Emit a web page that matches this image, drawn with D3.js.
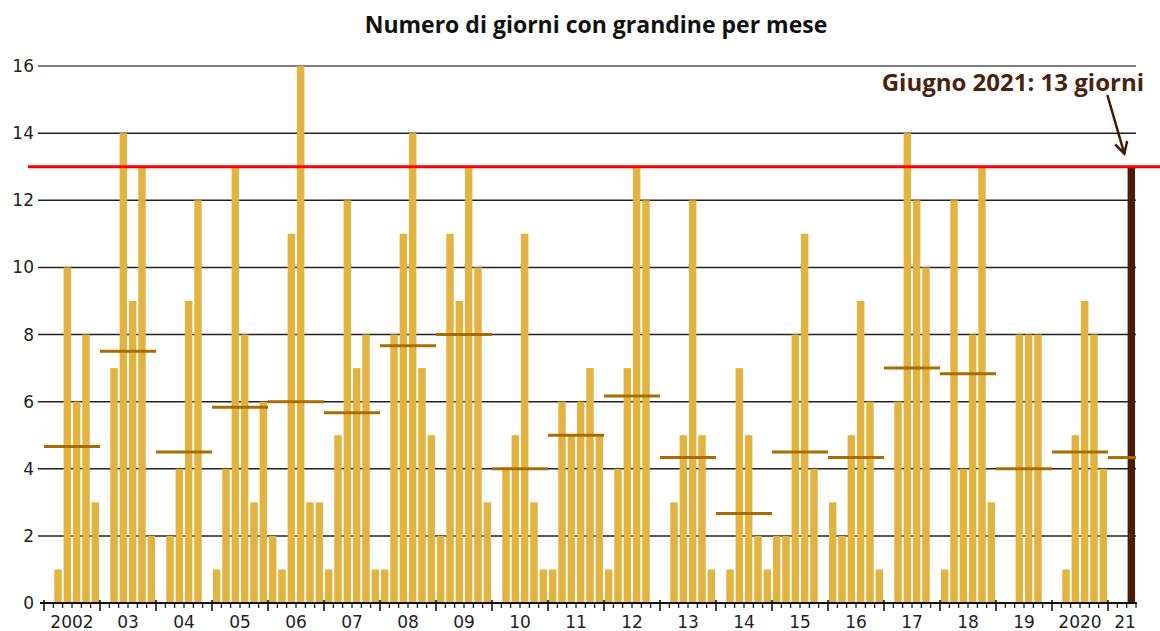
<!DOCTYPE html>
<html>
<head>
<meta charset="utf-8">
<script src="https://cdn.jsdelivr.net/npm/d3@7"></script>
<style>
  html, body { margin: 0; padding: 0; background: #fff; }
  svg { display: block; }
</style>
</head>
<body>
<svg id="chart" width="1160" height="631"></svg>
<script>
// ---- Data ----
const title = "Numero di giorni con grandine per mese";
const monthNames = ["Apr", "Mag", "Giu", "Lug", "Ago", "Set"];
const yearLabels = ["2002","03","04","05","06","07","08","09","10","11","12","13","14","15","16","17","18","19","2020","21"];
const monthlyCounts = [
  [0, 1, 10, 6, 8, 3],   // 2002
  [0, 7, 14, 9, 13, 2],  // 2003
  [0, 2, 4, 9, 12, 0],   // 2004
  [1, 4, 13, 8, 3, 6],   // 2005
  [2, 1, 11, 16, 3, 3],  // 2006
  [1, 5, 12, 7, 8, 1],   // 2007
  [1, 8, 11, 14, 7, 5],  // 2008
  [2, 11, 9, 13, 10, 3], // 2009
  [0, 4, 5, 11, 3, 1],   // 2010
  [1, 6, 5, 6, 7, 5],    // 2011
  [1, 4, 7, 13, 12, 0],  // 2012
  [0, 3, 5, 12, 5, 1],   // 2013
  [0, 1, 7, 5, 2, 1],    // 2014
  [2, 2, 8, 11, 4, 0],   // 2015
  [3, 2, 5, 9, 6, 1],    // 2016
  [0, 6, 14, 12, 10, 0], // 2017
  [1, 12, 4, 8, 13, 3],  // 2018
  [0, 0, 8, 8, 8, 0],    // 2019
  [0, 1, 5, 9, 8, 4],    // 2020
  [0, 0, 13]             // 2021 (Apr-Giu)
];
const yTicks = [0, 2, 4, 6, 8, 10, 12, 14, 16];
const highlightValue = 13;
const highlightYear = "21";
const highlightMonth = "Giu";
const annotationText = "Giugno 2021: 13 giorni";

// ---- Build slots ----
const slots = [];
monthlyCounts.forEach((vals, yi) => {
  vals.forEach((v, mi) => {
    slots.push({ key: yi + "-" + mi, year: yearLabels[yi], month: monthNames[mi], yi, mi, value: v });
  });
});
const yearSlots = monthlyCounts.map((vals, yi) => ({
  year: yearLabels[yi],
  first: yi + "-0",
  last: yi + "-" + (vals.length - 1),
  mean: d3.mean(vals)
}));

// ---- Layout ----
const svg = d3.select("#chart");
const plotLeft = 44, plotRight = 1136, plotTop = 66, plotBottom = 603;

const x = d3.scaleBand()
  .domain(slots.map(d => d.key))
  .range([plotLeft, plotRight])
  .paddingInner(0.2)
  .paddingOuter(0.1)
  .align(0.5);
const step = x.step();
const slotStart = k => x(k) - step * x.paddingInner() / 2;

const y = d3.scaleLinear().domain([0, 16]).range([plotBottom, plotTop]);

// Title
svg.append("text")
  .attr("x", 596).attr("y", 33)
  .attr("text-anchor", "middle")
  .attr("font-family", "'Open Sans', sans-serif")
  .attr("font-weight", 700)
  .attr("font-size", 23)
  .attr("fill", "#111")
  .text(title);

// Gridlines
svg.append("g").selectAll("line")
  .data(yTicks.filter(t => t > 0))
  .join("line")
  .attr("x1", 38).attr("x2", plotRight)
  .attr("y1", d => y(d)).attr("y2", d => y(d))
  .attr("stroke", d => d === 16 ? "#555" : "#222")
  .attr("stroke-width", 1.5);

// Y tick labels
svg.append("g").selectAll("text")
  .data(yTicks)
  .join("text")
  .attr("x", 34).attr("y", d => y(d))
  .attr("dy", "0.36em")
  .attr("text-anchor", "end")
  .attr("font-family", "'DejaVu Sans', sans-serif")
  .attr("font-size", 17)
  .attr("fill", "#222")
  .text(d => d);

// Bars
svg.append("g").selectAll("rect")
  .data(slots.filter(d => d.value > 0))
  .join("rect")
  .attr("x", d => x(d.key))
  .attr("width", x.bandwidth())
  .attr("y", d => y(d.value))
  .attr("height", d => y(0) - y(d.value))
  .attr("fill", d => (d.year === highlightYear && d.month === highlightMonth) ? "#4a1d06" : "#e3b342");

// Mean lines per year
svg.append("g").selectAll("line")
  .data(yearSlots)
  .join("line")
  .attr("x1", d => slotStart(d.first))
  .attr("x2", d => Math.min(slotStart(d.last) + step, plotRight))
  .attr("y1", d => y(d.mean)).attr("y2", d => y(d.mean))
  .attr("stroke", "#a96c02")
  .attr("stroke-width", 3);

// Red threshold line
svg.append("line")
  .attr("x1", 28).attr("x2", 1160)
  .attr("y1", y(highlightValue)).attr("y2", y(highlightValue))
  .attr("stroke", "#ff0000")
  .attr("stroke-width", 3);

// X axis line
const axisG = svg.append("g");
axisG.append("line")
  .attr("x1", 40).attr("x2", plotRight + 1)
  .attr("y1", plotBottom).attr("y2", plotBottom)
  .attr("stroke", "#111").attr("stroke-width", 2);

// Minor ticks (month boundaries) and major ticks (year boundaries)
const boundaries = [];
slots.forEach(d => boundaries.push({ pos: slotStart(d.key), major: d.mi === 0 }));
boundaries.push({ pos: slotStart(slots[slots.length - 1].key) + step, major: false });
axisG.selectAll("line.tick")
  .data(boundaries)
  .join("line")
  .attr("class", "tick")
  .attr("x1", d => d.pos).attr("x2", d => d.pos)
  .attr("y1", d => d.major ? plotBottom - 3 : plotBottom)
  .attr("y2", d => d.major ? plotBottom + 8 : plotBottom + 5)
  .attr("stroke", "#111")
  .attr("stroke-width", d => d.major ? 1.6 : 1.2);

// Year labels
axisG.selectAll("text")
  .data(yearSlots)
  .join("text")
  .attr("x", d => (slotStart(d.first) + slotStart(d.last) + step) / 2 + (d.year === "21" ? 3 : 0))
  .attr("y", 628)
  .attr("text-anchor", "middle")
  .attr("font-family", "'DejaVu Sans', sans-serif")
  .attr("font-size", 17)
  .attr("fill", "#222")
  .text(d => d.year);

// Annotation
const hl = slots.find(d => d.year === highlightYear && d.month === highlightMonth);
const hlX = x(hl.key) + x.bandwidth() / 2;
svg.append("text")
  .attr("x", 1144).attr("y", 91)
  .attr("text-anchor", "end")
  .attr("font-family", "'Open Sans', sans-serif")
  .attr("font-weight", 700)
  .attr("font-size", 24)
  .attr("fill", "#4a230f")
  .text(annotationText);

const ax1 = hlX - 24, ay1 = 95, ax2 = hlX - 7, ay2 = y(highlightValue) - 13;
svg.append("line")
  .attr("x1", ax1).attr("y1", ay1).attr("x2", ax2).attr("y2", ay2)
  .attr("stroke", "#3d1a06").attr("stroke-width", 2.5);
const ang = Math.atan2(ay2 - ay1, ax2 - ax1);
const hs = 13, spread = 0.5;
svg.append("path")
  .attr("d", `M${ax2 - hs * Math.cos(ang - spread)},${ay2 - hs * Math.sin(ang - spread)} L${ax2},${ay2} L${ax2 - hs * Math.cos(ang + spread)},${ay2 - hs * Math.sin(ang + spread)}`)
  .attr("fill", "none")
  .attr("stroke", "#3d1a06").attr("stroke-width", 2.5)
  .attr("stroke-linejoin", "miter");
</script>
</body>
</html>
